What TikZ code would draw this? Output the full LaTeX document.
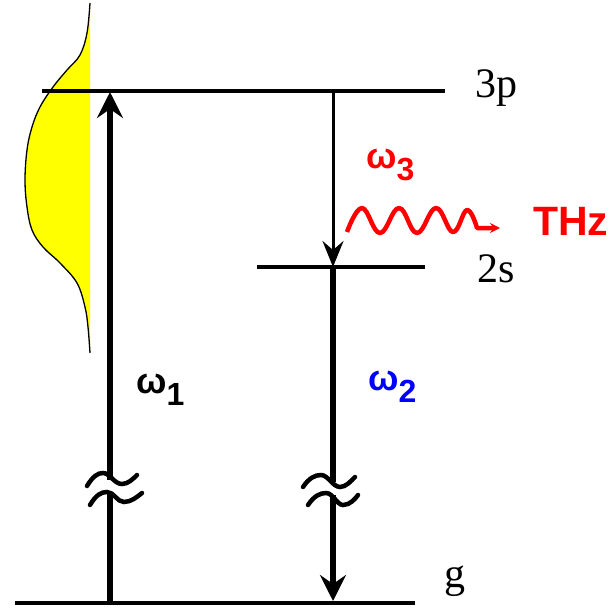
\documentclass[tikz,border=0pt]{standalone}
\usepackage{fontspec}
\setmainfont{Liberation Serif}
\setsansfont{Liberation Sans}
\usetikzlibrary{arrows.meta}
\definecolor{gyellow}{RGB}{255,255,0}
\definecolor{tred}{RGB}{255,0,0}
\definecolor{tblue}{RGB}{0,0,255}
\begin{document}
\begin{tikzpicture}[x=1pt,y=-1pt,
  level/.style={line width=3.5pt,black},
  bigarrow/.style={line width=5.5pt,-{Stealth[length=26pt,width=26pt,inset=9pt]}},
  thinarrow/.style={line width=3pt,-{Stealth[length=26pt,width=21pt,inset=9pt]}},
  tildeline/.style={line width=4.5pt,line cap=round},
  lvllabel/.style={font=\fontsize{42}{42}\selectfont,anchor=base west,inner sep=0pt},
  omlabel/.style={font=\fontsize{36}{36}\selectfont\sffamily\bfseries,anchor=base west,inner sep=0pt},
  wave/.style={line width=4.5pt,tred,line join=round}
]
\useasboundingbox (0,0) rectangle (612,610);
% Gaussian pulse
\fill[gyellow] plot[smooth,tension=0.6] coordinates {(90,3) (87,33) (80,55) (67,70) (53,87) (40,107) (32,127) (27,150) (25,180) (27,207) (32,230) (43,247) (60,263) (77,283) (85,307) (88,327) (90,353)} -- cycle;
\draw[line width=1.3pt] plot[smooth,tension=0.6] coordinates {(90,3) (87,33) (80,55) (67,70) (53,87) (40,107) (32,127) (27,150) (25,180) (27,207) (32,230) (43,247) (60,263) (77,283) (85,307) (88,327) (90,353)};
% levels
\coordinate (p3L) at (42,91); \coordinate (p3R) at (445,91);
\coordinate (s2L) at (257,267); \coordinate (s2R) at (425,267);
\coordinate (gL) at (15,603); \coordinate (gR) at (415,603);
\draw[level] (p3L) -- (p3R);
\draw[level] (s2L) -- (s2R);
\draw[level] (gL) -- (gR);
% arrows
\coordinate (a1b) at (110,603); \coordinate (a1t) at (110,92);
\coordinate (a3t) at (333,91); \coordinate (a3b) at (333,267);
\coordinate (a2b) at (333,601);
\draw[bigarrow] (a1b) -- (a1t);
\draw[thinarrow] (a3t) -- (a3b);
\draw[bigarrow] (a3b) -- (a2b);
% breaks
\fill[white] (105,480) rectangle (115,492);
\fill[white] (328,482) rectangle (338,495);
\draw[tildeline] (87,486) .. controls (93,476) and (98,473) .. (103,473) .. controls (110,473) and (114,484) .. (122,484) .. controls (128,484) and (133,479) .. (137,475);
\draw[tildeline] (90,505) .. controls (96,495) and (101,492) .. (107,492) .. controls (114,492) and (117,502) .. (124,502) .. controls (131,502) and (137,497) .. (142,493);
\draw[tildeline] (303,487) .. controls (309,478) and (315,475) .. (321,475) .. controls (328,475) and (333,487) .. (340,487) .. controls (346,487) and (351,481) .. (355,477);
\draw[tildeline] (308,505) .. controls (314,496) and (320,493) .. (326,493) .. controls (333,493) and (337,505) .. (343,505) .. controls (350,505) and (355,499) .. (358,495);
% THz wave
\draw[wave,-{Stealth[length=10pt,width=10pt]}] plot[smooth,tension=0.7] coordinates {(347,232) (362,208) (380,233) (399,208) (417,233) (436,208) (453,232) (467,210) (477,228)} -- (500,228);
% labels
\node[lvllabel] (l3p) at (475,97) {3p};
\node[lvllabel] (l2s) at (477,282) {2s};
\node[lvllabel] (lg) at (444,587) {g};
\node[omlabel] (w1) at (136,393) {ω\raisebox{-12pt}{\fontsize{32}{32}\selectfont 1}};
\node[omlabel,tblue] (w2) at (368,390) {ω\raisebox{-12pt}{\fontsize{32}{32}\selectfont 2}};
\node[omlabel,tred] (w3) at (366,168) {ω\raisebox{-12pt}{\fontsize{32}{32}\selectfont 3}};
\node[font=\fontsize{41}{41}\selectfont\sffamily\bfseries,tred,anchor=base west,inner sep=0pt] (thz) at (533,235) {THz};
\end{tikzpicture}
\end{document}
